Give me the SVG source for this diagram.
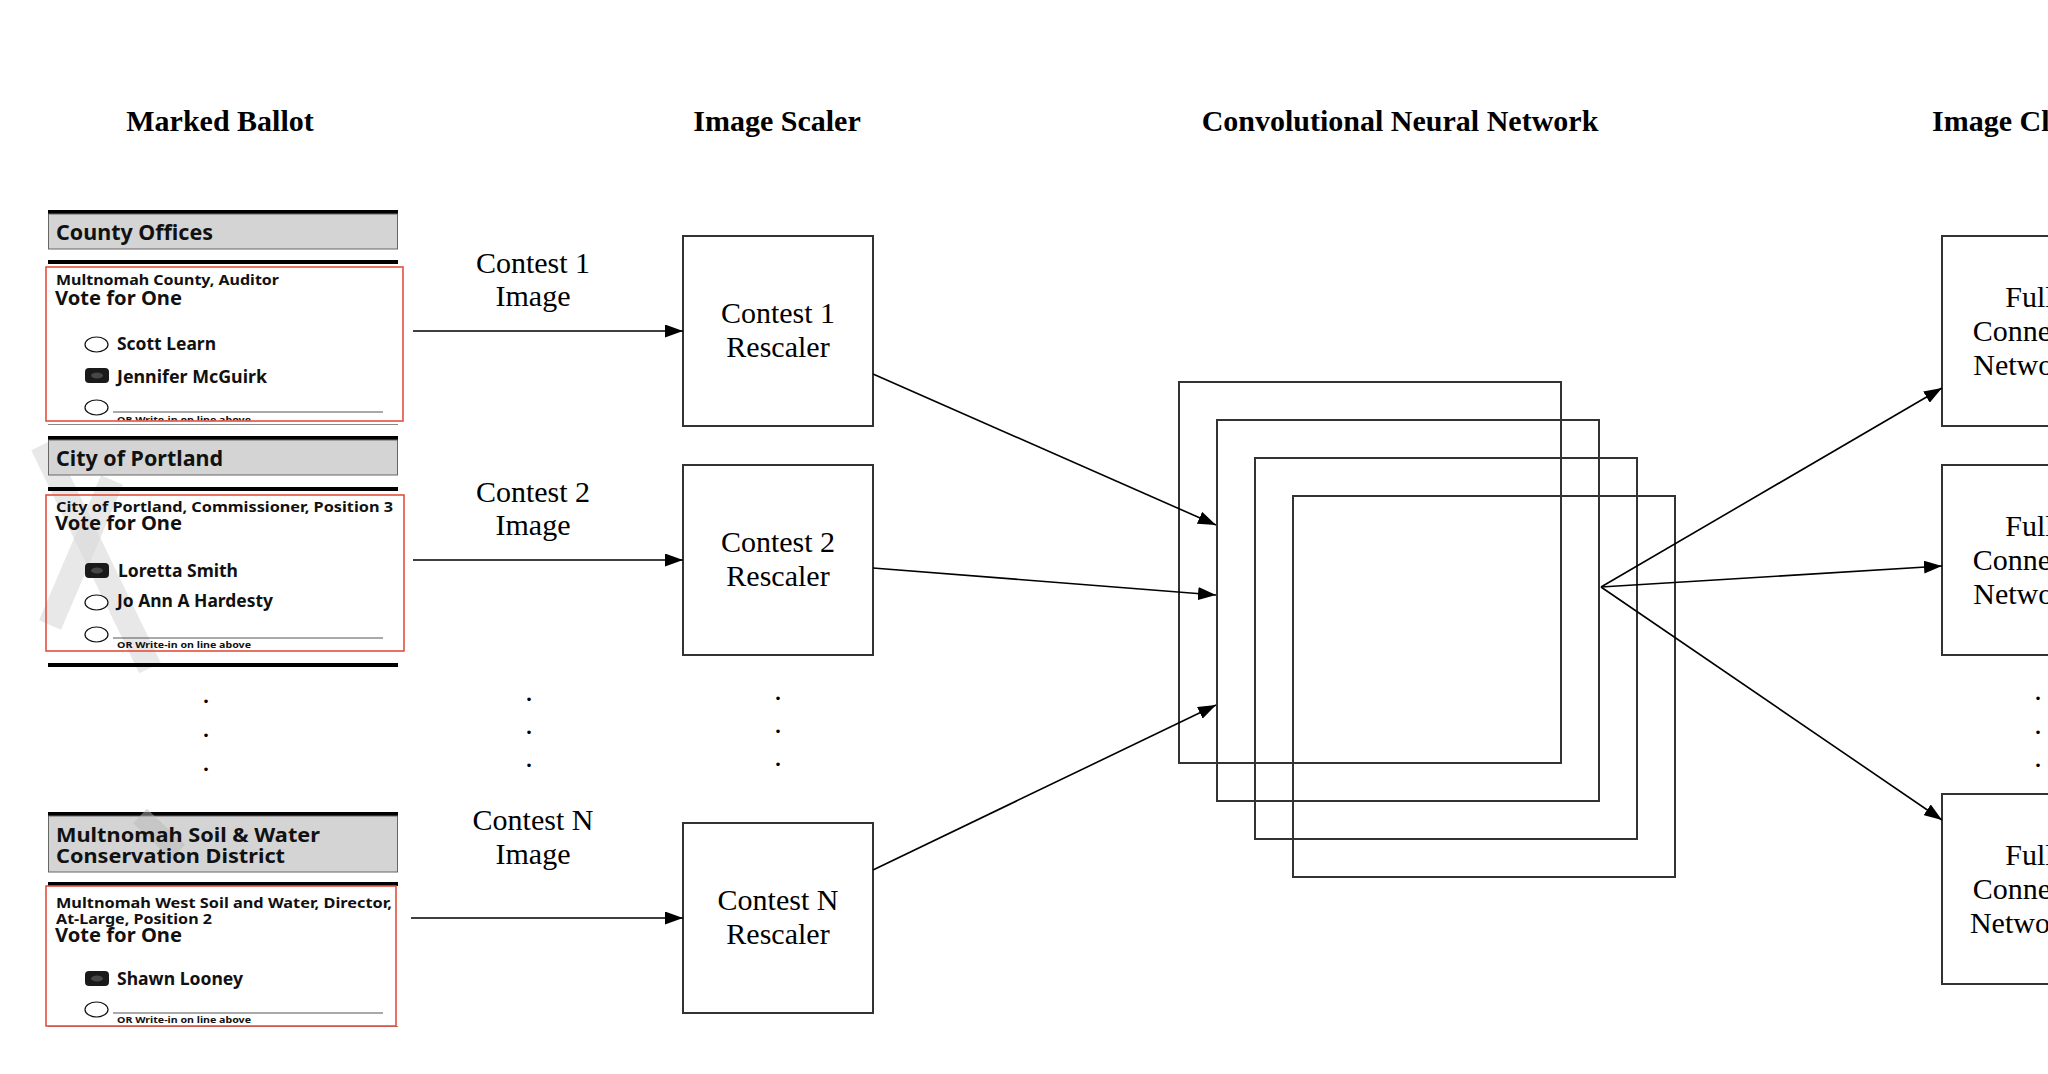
<svg xmlns="http://www.w3.org/2000/svg" width="2048" height="1074" viewBox="0 0 2048 1074">
<style>
.title{font-family:"Liberation Serif","Times New Roman",serif;font-weight:700;font-size:30px;fill:#000}
.lbl{font-family:"Liberation Serif","Times New Roman",serif;font-size:30px;fill:#000}
.mid{text-anchor:middle}
.box{fill:#fff;stroke:#333;stroke-width:2}
.cnn{fill:none;stroke:#333;stroke-width:2}
.edge{fill:none;stroke:#000;stroke-width:1.6}
.b{font-family:"Noto Sans","Open Sans",sans-serif;font-weight:700;fill:#111}
.bar{fill:#000}
.hdr{fill:#d4d4d4;stroke:#666;stroke-width:1}
.red{fill:none;stroke:#e0513f;stroke-width:1.6}
.oval{fill:#fff;stroke:#111;stroke-width:1.2}
.wline{stroke:#555;stroke-width:1}
.wm{stroke:#d9d9d9;stroke-width:24;fill:none;stroke-linecap:butt;opacity:0.6}
</style>
<defs>
<marker id="ah" markerWidth="18" markerHeight="13" refX="18" refY="6.5" orient="auto" markerUnits="userSpaceOnUse">
<path d="M0,0 L18,6.5 L0,13 z" fill="#000"/>
</marker>
<clipPath id="c1"><rect x="40" y="260" width="370" height="160.5"/></clipPath>
<g id="mark"><rect x="0" y="0" width="24" height="15" rx="4" fill="#1a1a1a"/><ellipse cx="12" cy="7.5" rx="6" ry="3" fill="#666" opacity="0.6"/></g>
</defs>
<rect width="2048" height="1074" fill="#fff"/>

<g id="titles">
<text class="title mid" x="220" y="131">Marked Ballot</text>
<text class="title mid" x="777" y="131">Image Scaler</text>
<text class="title mid" x="1400" y="131">Convolutional Neural Network</text>
<text class="title" x="1932" y="131">Image Classifier</text>
</g>

<g id="ballot">
<g id="watermark">
<path class="wm" d="M42,445 L150,668"/>
<path class="wm" d="M50,625 L112,480"/>
</g>
<g id="section1">
<rect class="bar" x="48" y="210" width="350" height="4"/>
<rect class="hdr" x="48.5" y="214" width="349" height="35"/>
<text class="b" x="56" y="240" font-size="21" textLength="157" lengthAdjust="spacingAndGlyphs">County Offices</text>
<rect class="bar" x="48" y="260" width="350" height="4"/>
<text class="b" x="56" y="285" font-size="15" textLength="223" lengthAdjust="spacingAndGlyphs">Multnomah County, Auditor</text>
<text class="b" x="55" y="305" font-size="19" textLength="127" lengthAdjust="spacingAndGlyphs">Vote for One</text>
<ellipse class="oval" cx="96.5" cy="344.5" rx="11.5" ry="7.5"/>
<text class="b" x="117" y="350" font-size="17.5" textLength="99" lengthAdjust="spacingAndGlyphs">Scott Learn</text>
<use href="#mark" x="85" y="368"/>
<text class="b" x="117" y="383" font-size="17.5" textLength="150" lengthAdjust="spacingAndGlyphs">Jennifer McGuirk</text>
<ellipse class="oval" cx="96.5" cy="407.5" rx="11.5" ry="7.5"/>
<line class="wline" x1="113" y1="412" x2="383" y2="412"/>
<text class="b" x="117" y="422.5" font-size="9.5" textLength="134" lengthAdjust="spacingAndGlyphs" clip-path="url(#c1)">OR Write-in on line above</text>
<rect class="red" x="46" y="267" width="357" height="154"/>
<line x1="48" y1="424.5" x2="398" y2="424.5" stroke="#888" stroke-width="1"/>
</g>
<g id="section2">
<rect class="bar" x="48" y="436" width="350" height="4"/>
<rect class="hdr" x="48.5" y="440" width="349" height="35"/>
<text class="b" x="56" y="466" font-size="21" textLength="167" lengthAdjust="spacingAndGlyphs">City of Portland</text>
<rect class="bar" x="48" y="487" width="350" height="4"/>
<text class="b" x="56" y="512" font-size="14.5" textLength="337" lengthAdjust="spacingAndGlyphs">City of Portland, Commissioner, Position 3</text>
<text class="b" x="55" y="530" font-size="19" textLength="127" lengthAdjust="spacingAndGlyphs">Vote for One</text>
<use href="#mark" x="85" y="563"/>
<text class="b" x="118" y="577" font-size="17.5" textLength="120" lengthAdjust="spacingAndGlyphs">Loretta Smith</text>
<ellipse class="oval" cx="96.5" cy="602.5" rx="11.5" ry="7.5"/>
<text class="b" x="117" y="607" font-size="17.5" textLength="156" lengthAdjust="spacingAndGlyphs">Jo Ann A Hardesty</text>
<ellipse class="oval" cx="96.5" cy="634.5" rx="11.5" ry="7.5"/>
<line class="wline" x1="113" y1="638" x2="383" y2="638"/>
<text class="b" x="117" y="648" font-size="9.5" textLength="134" lengthAdjust="spacingAndGlyphs">OR Write-in on line above</text>
<rect class="red" x="46" y="495" width="358" height="156"/>
<rect class="bar" x="48" y="663" width="350" height="4"/>
</g>
<g id="section3">
<rect class="bar" x="48" y="812" width="350" height="4"/>
<rect class="hdr" x="48.5" y="816" width="349" height="56"/>
<path d="M140,816 L178,852" stroke="#b8b8b8" stroke-width="20" opacity="0.5" fill="none"/>
<text class="b" x="56" y="842" font-size="20" textLength="264" lengthAdjust="spacingAndGlyphs">Multnomah Soil &amp; Water</text>
<text class="b" x="56" y="863" font-size="20" textLength="229" lengthAdjust="spacingAndGlyphs">Conservation District</text>
<rect class="bar" x="48" y="882" width="350" height="4"/>
<text class="b" x="56" y="908" font-size="14.5" textLength="336" lengthAdjust="spacingAndGlyphs">Multnomah West Soil and Water, Director,</text>
<text class="b" x="56" y="924" font-size="14.5" textLength="156" lengthAdjust="spacingAndGlyphs">At-Large, Position 2</text>
<text class="b" x="55" y="942" font-size="19" textLength="127" lengthAdjust="spacingAndGlyphs">Vote for One</text>
<use href="#mark" x="85" y="971"/>
<text class="b" x="117" y="985" font-size="17.5" textLength="126" lengthAdjust="spacingAndGlyphs">Shawn Looney</text>
<ellipse class="oval" cx="96.5" cy="1009.5" rx="11.5" ry="7.5"/>
<line class="wline" x1="113" y1="1013" x2="383" y2="1013"/>
<text class="b" x="117" y="1023" font-size="9.5" textLength="134" lengthAdjust="spacingAndGlyphs">OR Write-in on line above</text>
<line x1="48" y1="1026.5" x2="398" y2="1026.5" stroke="#888" stroke-width="1"/>
<rect class="red" x="46" y="886" width="350" height="140"/>
</g>
</g>

<g id="dots" class="lbl mid">
<text x="206" y="703">.</text><text x="206" y="737">.</text><text x="206" y="771">.</text>
<text x="529" y="701">.</text><text x="529" y="734">.</text><text x="529" y="767">.</text>
<text x="778" y="700">.</text><text x="778" y="733">.</text><text x="778" y="766">.</text>
<text x="2038" y="700">.</text><text x="2038" y="734">.</text><text x="2038" y="767">.</text>
</g>

<g id="rescaler1">
<rect class="box" x="683" y="236" width="190" height="190"/>
<text class="lbl mid" x="778" y="323">Contest 1</text>
<text class="lbl mid" x="778" y="357">Rescaler</text>
</g>
<g id="rescaler2">
<rect class="box" x="683" y="465" width="190" height="190"/>
<text class="lbl mid" x="778" y="552">Contest 2</text>
<text class="lbl mid" x="778" y="586">Rescaler</text>
</g>
<g id="rescalerN">
<rect class="box" x="683" y="823" width="190" height="190"/>
<text class="lbl mid" x="778" y="910">Contest N</text>
<text class="lbl mid" x="778" y="944">Rescaler</text>
</g>

<g id="cnn">
<rect class="cnn" x="1179" y="382" width="382" height="381"/>
<rect class="cnn" x="1217" y="420" width="382" height="381"/>
<rect class="cnn" x="1255" y="458" width="382" height="381"/>
<rect class="cnn" x="1293" y="496" width="382" height="381"/>
</g>

<g id="fc1">
<rect class="box" x="1942" y="236" width="190" height="190"/>
<text class="lbl mid" x="2037" y="307">Fully</text>
<text class="lbl mid" x="2037" y="341">Connected</text>
<text class="lbl mid" x="2037" y="375">Network 1</text>
</g>
<g id="fc2">
<rect class="box" x="1942" y="465" width="190" height="190"/>
<text class="lbl mid" x="2037" y="536">Fully</text>
<text class="lbl mid" x="2037" y="570">Connected</text>
<text class="lbl mid" x="2037" y="604">Network 2</text>
</g>
<g id="fcN">
<rect class="box" x="1942" y="794" width="190" height="190"/>
<text class="lbl mid" x="2037" y="865">Fully</text>
<text class="lbl mid" x="2037" y="899">Connected</text>
<text class="lbl mid" x="2037" y="933">Network N</text>
</g>

<g id="connectors">
<line class="edge" x1="413" y1="331" x2="683" y2="331" marker-end="url(#ah)"/>
<line class="edge" x1="413" y1="560" x2="683" y2="560" marker-end="url(#ah)"/>
<line class="edge" x1="411" y1="918" x2="683" y2="918" marker-end="url(#ah)"/>
<line class="edge" x1="873" y1="374" x2="1216" y2="525" marker-end="url(#ah)"/>
<line class="edge" x1="873" y1="568" x2="1216" y2="595" marker-end="url(#ah)"/>
<line class="edge" x1="873" y1="870" x2="1216" y2="705" marker-end="url(#ah)"/>
<line class="edge" x1="1601" y1="587" x2="1942" y2="388" marker-end="url(#ah)"/>
<line class="edge" x1="1601" y1="587" x2="1942" y2="566" marker-end="url(#ah)"/>
<line class="edge" x1="1601" y1="587" x2="1942" y2="820" marker-end="url(#ah)"/>
<g class="lbl mid">
<text x="533" y="273">Contest 1</text><text x="533" y="306">Image</text>
<text x="533" y="502">Contest 2</text><text x="533" y="535">Image</text>
<text x="533" y="830">Contest N</text><text x="533" y="864">Image</text>
</g>
</g>
</svg>
